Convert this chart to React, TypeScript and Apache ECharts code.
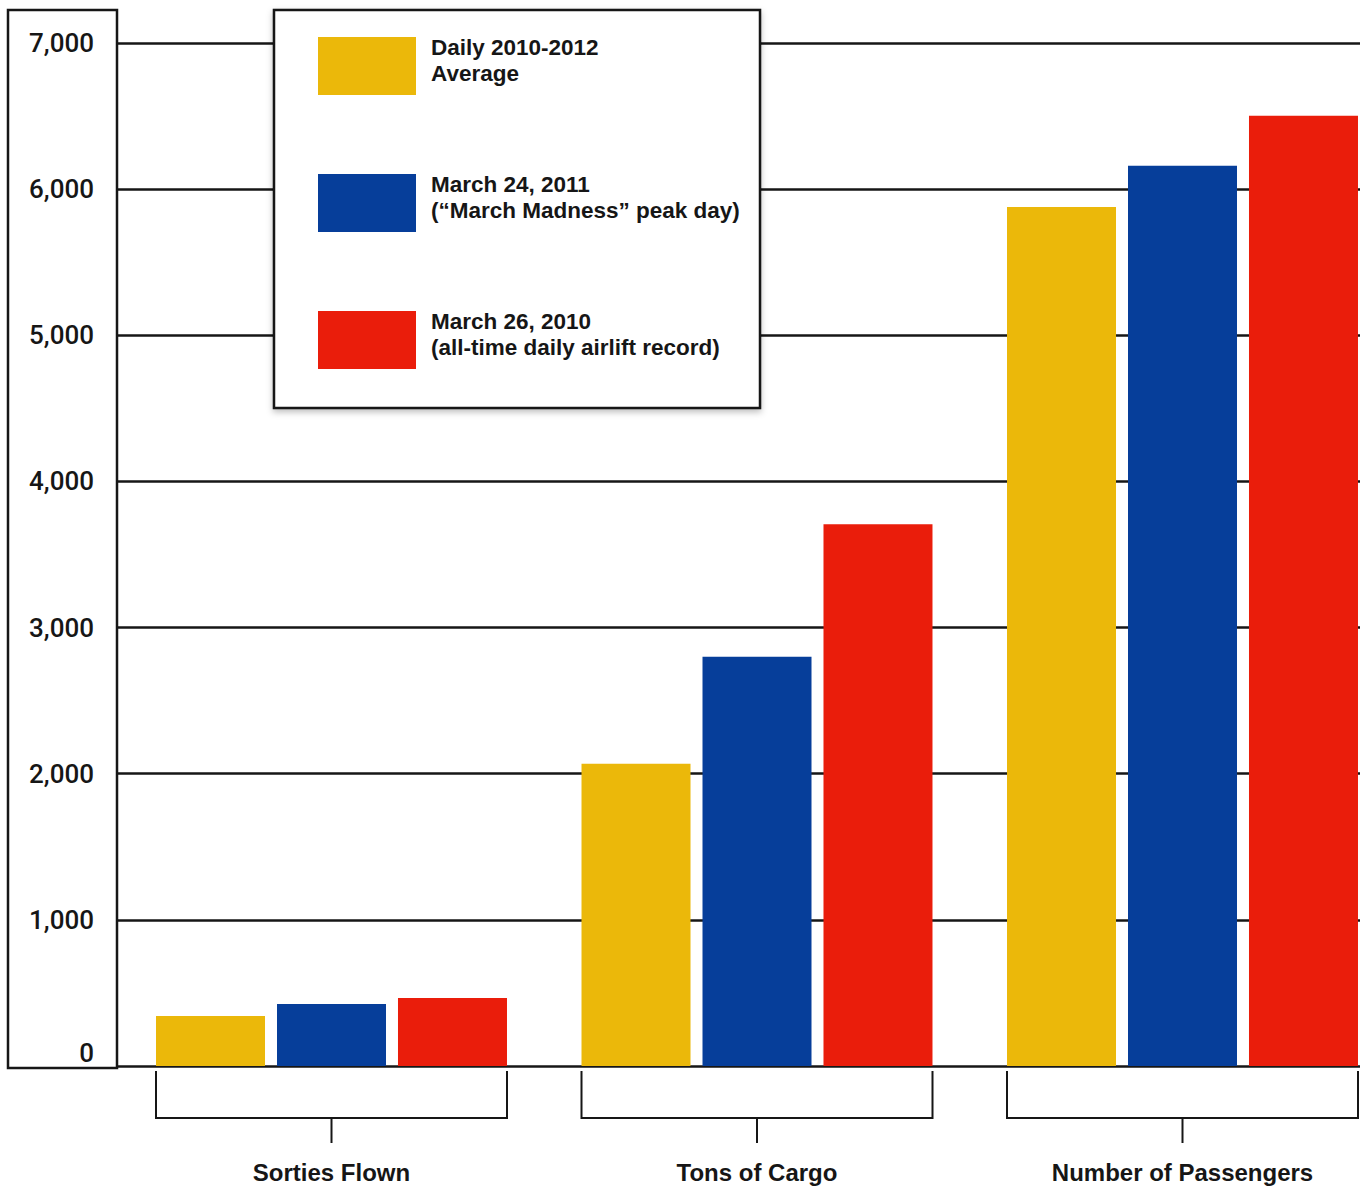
import React, { useEffect, useRef } from "react";
import * as echarts from "echarts";

const categories = ["Sorties Flown", "Tons of Cargo", "Number of Passengers"];
const seriesNames = [
  "Daily 2010-2012\nAverage",
  "March 24, 2011\n(“March Madness” peak day)",
  "March 26, 2010\n(all-time daily airlift record)",
];
const averageValues = [342, 2068, 5877];
const peakDayValues = [424, 2800, 6160];
const recordValues = [465, 3707, 6502];
const yMin = 0;
const yMax = 7000;
const yInterval = 1000;
const colors = ["#EBB80A", "#063E9A", "#EA1D0B"];

const FONT = "'Liberation Sans', Arial, sans-serif";
const NUM_FONT = "Roboto, 'Liberation Sans', Arial, sans-serif";
const INK = "#161616";
const BAR_W = 109;
const BAR_GAP_PX = 12;

export default function App() {
  const ref = useRef<HTMLDivElement>(null);
  useEffect(() => {
    if (!ref.current) return;
    const chart = echarts.init(ref.current, undefined, { renderer: "svg" });
    const seriesData = [averageValues, peakDayValues, recordValues];
    chart.setOption({
      animation: false,
      backgroundColor: "#ffffff",
      grid: [
        { left: 117, top: 43, width: 1243, height: 1023 },
        { left: 118.75, top: 43, width: 1276.5, height: 1023 },
      ],
      xAxis: [
        { gridIndex: 0, type: "value", min: 0, max: 1, show: false },
        {
          gridIndex: 1,
          type: "category",
          data: categories,
          axisLine: { show: false },
          axisTick: { show: false },
          axisLabel: {
            margin: 94,
            fontSize: 24,
            fontWeight: "bold",
            color: INK,
            fontFamily: FONT,
          },
        },
      ],
      yAxis: [
        {
          gridIndex: 0,
          type: "value",
          min: yMin,
          max: yMax,
          interval: yInterval,
          axisLine: { show: false },
          axisTick: { show: false },
          splitLine: { lineStyle: { color: INK, width: 2.5 } },
          axisLabel: {
            margin: 23,
            fontSize: 26,
            fontWeight: 500,
            color: INK,
            fontFamily: NUM_FONT,
            formatter: (v: number) =>
              v === 0 ? "{z|0}" : v.toLocaleString("en-US"),
            rich: {
              z: {
                fontSize: 26,
                fontWeight: 500,
                color: INK,
                fontFamily: NUM_FONT,
                padding: [0, 0, 26, 0],
              },
            },
          },
        },
        { gridIndex: 1, type: "value", min: yMin, max: yMax, show: false },
      ],
      legend: {
        orient: "vertical",
        left: 313,
        top: 29,
        itemWidth: 98,
        itemHeight: 58,
        itemGap: 73,
        icon: "rect",
        selectedMode: false,
        z: 10,
        formatter: (name: string) =>
          name
            .split("\n")
            .map((l) => `{a|${l}}`)
            .join("\n") + "\n{s| }",
        textStyle: {
          fontSize: 22.5,
          fontWeight: "bold",
          lineHeight: 26,
          color: INK,
          fontFamily: FONT,
          padding: [0, 0, 0, 10],
          rich: {
            a: {
              fontSize: 22.5,
              fontWeight: "bold",
              lineHeight: 26,
              color: INK,
              fontFamily: FONT,
            },
            s: { fontSize: 8, lineHeight: 12 },
          },
        },
        data: seriesNames,
      },
      series: seriesNames.map((name, i) => ({
        name,
        type: "bar",
        xAxisIndex: 1,
        yAxisIndex: 1,
        barWidth: BAR_W,
        barGap: "11%",
        itemStyle: { color: colors[i] },
        data: seriesData[i],
      })),
    });

    const half = (3 * BAR_W + 2 * BAR_GAP_PX) / 2;
    const brackets: any[] = [];
    categories.forEach((_, i) => {
      const p = chart.convertToPixel({ gridIndex: 1 }, [i, 0]) as number[];
      const cx = p[0];
      const y0 = p[1];
      brackets.push({
        type: "polyline",
        shape: {
          points: [
            [cx - half, y0 + 5],
            [cx - half, y0 + 52],
            [cx + half, y0 + 52],
            [cx + half, y0 + 5],
          ],
        },
        style: { fill: "none", stroke: INK, lineWidth: 2 },
      });
      brackets.push({
        type: "line",
        shape: { x1: cx, y1: y0 + 52, x2: cx, y2: y0 + 77 },
        style: { stroke: INK, lineWidth: 2 },
      });
    });

    chart.setOption({
      graphic: [
        {
          type: "rect",
          shape: { x: 8, y: 10, width: 109, height: 1058 },
          style: { fill: "none", stroke: INK, lineWidth: 2.5 },
          z: 3,
        },
        {
          type: "rect",
          shape: { x: 274, y: 10, width: 486, height: 398 },
          style: {
            fill: "#ffffff",
            stroke: INK,
            lineWidth: 2.5,
            shadowBlur: 6,
            shadowOffsetY: 3,
            shadowColor: "rgba(0,0,0,0.25)",
          },
          z: 3,
        },
        ...brackets,
      ],
    });

    return () => chart.dispose();
  }, []);
  return (
    <div
      style={{
        position: "absolute",
        left: 0,
        top: 0,
        width: 1365,
        height: 1186,
        overflow: "hidden",
        background: "#ffffff",
      }}
    >
      <div ref={ref} style={{ width: 1400, height: 1186 }} />
    </div>
  );
}
